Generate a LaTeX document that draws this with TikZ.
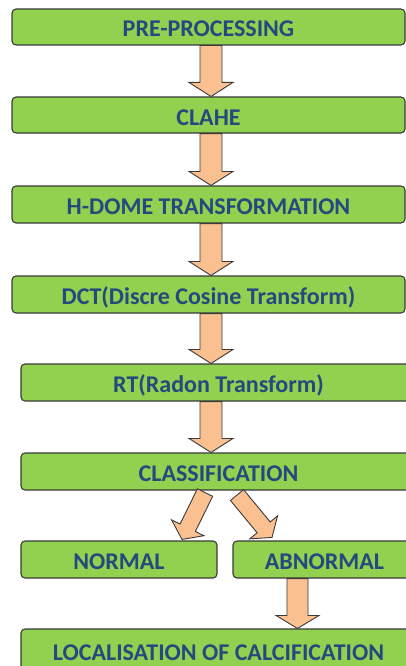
\documentclass[tikz,border=0pt]{standalone}
\usepackage{fontspec}
\setmainfont{Carlito}
\usetikzlibrary{calc}
\definecolor{boxgreen}{HTML}{92D050}
\definecolor{txtblue}{HTML}{24497F}
\definecolor{arrfill}{HTML}{FAC090}
\definecolor{edgegray}{HTML}{3A3A3A}
\tikzset{
  box/.style={draw=edgegray, line width=1.1pt, fill=boxgreen, rounded corners=4pt,
    inner sep=0pt, text height=20pt, text depth=0pt, text=txtblue,
    font=\fontsize{24pt}{28pt}\selectfont\bfseries},
  arrowbox/.style={draw=edgegray, line width=0.9pt, fill=arrfill, line join=miter}
}
\newcommand\blockarrow[5]{%
  \draw[arrowbox] let \p1=(#1), \p2=(#2),
    \n1={atan2(\y2-\y1,\x2-\x1)}, \n2={veclen(\x2-\x1,\y2-\y1)} in
    ($(\p1)+({\n1+90}:#3)$)
    -- ($(\p1)+(\n1:{\n2-#5})+({\n1+90}:#3)$)
    -- ($(\p1)+(\n1:{\n2-#5})+({\n1+90}:#4)$)
    -- (\p2)
    -- ($(\p1)+(\n1:{\n2-#5})+({\n1-90}:#4)$)
    -- ($(\p1)+(\n1:{\n2-#5})+({\n1-90}:#3)$)
    -- ($(\p1)+({\n1-90}:#3)$) -- cycle;}
\begin{document}
\begin{tikzpicture}[x=1pt,y=-1pt]
\clip (0,0) rectangle (406,666);
\fill[white] (0,0) rectangle (406,666);
% boxes
\node[box, minimum width=393pt, minimum height=36pt] (b1) at (208.5,27) {PRE-PROCESSING};
\node[box, minimum width=393pt, minimum height=36pt] (b2) at (208.5,115) {CLAHE};
\node[box, minimum width=393pt, minimum height=37pt] (b3) at (208.5,204.5) {H-DOME TRANSFORMATION};
\node[box, minimum width=393pt, minimum height=37pt] (b4) at (208.5,294.5) {DCT(Discre Cosine Transform)};
\node[box, minimum width=395pt, minimum height=37pt] (b5) at (218.5,382.5) {RT(Radon Transform)};
\node[box, minimum width=395pt, minimum height=37pt] (b6) at (218.5,471.5) {CLASSIFICATION};
\node[box, minimum width=196pt, minimum height=37pt] (b7) at (119,559.5) {NORMAL};
\node[box, minimum width=183pt, minimum height=37pt] (b8) at (324.5,559.5) {ABNORMAL};
\node[box, minimum width=395pt, minimum height=42pt] (b9) at (218.5,650) {LOCALISATION OF CALCIFICATION};
% helper columns
\coordinate (col) at (211,0);
\coordinate (colab) at (297.5,0);
\coordinate (ls) at ($(b6.south -| 205,0)+(0,2)$);
\coordinate (le) at ($(b7.north -| 182,0)+(0,-1)$);
\coordinate (rs) at ($(b6.south -| 237,0)+(0,4.5)$);
\coordinate (re) at ($(b8.north -| 272,0)+(0,-3)$);
% arrows
\blockarrow{b1.south -| col}{b2.north -| col}{11pt}{22pt}{14pt}
\blockarrow{b2.south -| col}{b3.north -| col}{11pt}{22pt}{14pt}
\blockarrow{b3.south -| col}{b4.north -| col}{11pt}{22pt}{14pt}
\blockarrow{b4.south -| col}{b5.north -| col}{11pt}{22pt}{14pt}
\blockarrow{b5.south -| col}{b6.north -| col}{11pt}{22pt}{14pt}
\blockarrow{ls}{le}{8.5pt}{18pt}{13pt}
\blockarrow{rs}{re}{8.5pt}{18pt}{13pt}
\blockarrow{b8.south -| colab}{b9.north -| colab}{10.5pt}{21.5pt}{13pt}
\end{tikzpicture}
\end{document}
